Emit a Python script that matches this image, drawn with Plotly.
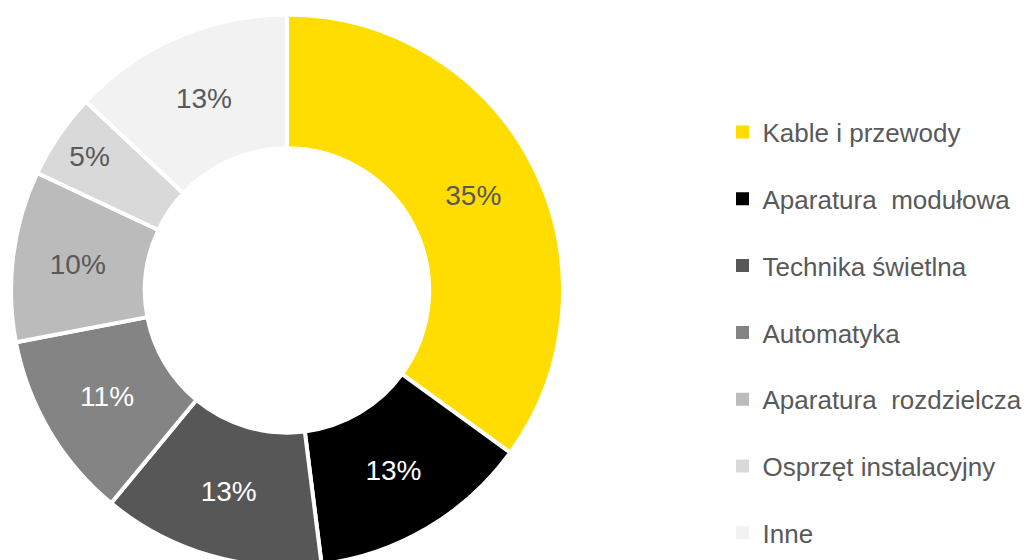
import plotly.graph_objects as go

categories = ["Kable i przewody", "Aparatura  modułowa", "Technika świetlna", "Automatyka",
              "Aparatura  rozdzielcza", "Osprzęt instalacyjny", "Inne"]
shares = [35, 13, 13, 11, 10, 5, 13]
colors = ["#FFDD00", "#000000", "#575757", "#848484", "#BBBBBB", "#D9D9D9", "#F2F2F2"]
label_colors = ["#595959", "#FFFFFF", "#FFFFFF", "#FFFFFF", "#595959", "#595959", "#595959"]

FONT = "Arial, 'Liberation Sans', sans-serif"
W, H = 1031, 560

fig = go.Figure()

fig.add_trace(go.Pie(
    labels=categories,
    values=shares,
    sort=False,
    direction="clockwise",
    rotation=0,
    hole=0.515,
    marker=dict(colors=colors, line=dict(color="white", width=4)),
    texttemplate="%{value}%",
    textposition="inside",
    insidetextorientation="horizontal",
    textfont=dict(family=FONT, size=28, color=label_colors),
    showlegend=False,
    domain=dict(x=[3 / W, 555 / W], y=[1 - 558.5 / H, 1 - 6.5 / H]),
))

for name, col in zip(categories, colors):
    fig.add_trace(go.Scatter(
        x=[None], y=[None], mode="markers", name=name,
        legendgroup=name,
        marker=dict(symbol="square", size=13, color=col),
        showlegend=True,
    ))

fig.update_layout(
    width=W, height=H,
    margin=dict(l=0, r=0, t=0, b=0, autoexpand=False),
    paper_bgcolor="white",
    plot_bgcolor="white",
    xaxis=dict(visible=False),
    yaxis=dict(visible=False),
    legend=dict(
        x=714.5 / W, xanchor="left",
        y=1 - 100.6 / H, yanchor="top",
        font=dict(family=FONT, size=26, color="#595959"),
        tracegroupgap=30,
        bgcolor="rgba(0,0,0,0)",
        borderwidth=0,
    ),
    font=dict(family=FONT),
)

fig.write_html("out.html")
